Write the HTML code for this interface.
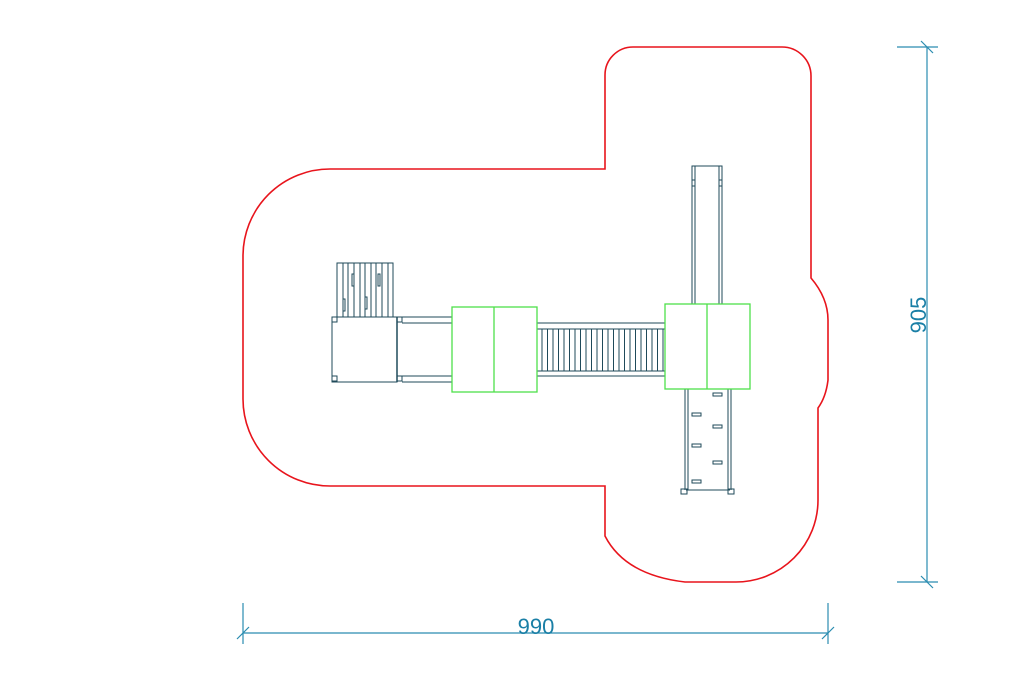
<!DOCTYPE html>
<html><head><meta charset="utf-8"><style>html,body{margin:0;background:#fff}svg{display:block}</style></head>
<body>
<svg width="1024" height="683" viewBox="0 0 1024 683" xmlns="http://www.w3.org/2000/svg">
<path d="M605,75 A28,28 0 0 1 633,47 L782,47 A29,29 0 0 1 811,76 L811,278 Q828,298 828,320 L828,380 Q826,397 818,408 L818,500 A82,82 0 0 1 736,582 L685,582 Q625,575 605,536 L605,486 L330,486 A87,87 0 0 1 243,399 L243,256 A87,87 0 0 1 330,169 L605,169 Z" fill="none" stroke="#e8141c" stroke-width="1.6"/>
<g stroke="#2a8cb0" stroke-width="1.2" fill="none">
<line x1="243" y1="633" x2="828" y2="633"/>
<line x1="243" y1="603" x2="243" y2="644"/><line x1="828" y1="603" x2="828" y2="644"/>
<line x1="237" y1="639" x2="249" y2="627"/><line x1="822" y1="639" x2="834" y2="627"/>
<line x1="927" y1="47" x2="927" y2="582"/>
<line x1="897" y1="47" x2="938" y2="47"/><line x1="897" y1="582" x2="938" y2="582"/>
<line x1="921" y1="41" x2="933" y2="53"/><line x1="921" y1="576" x2="933" y2="588"/>
</g>
<text x="536" y="634" font-family="Liberation Sans, sans-serif" font-size="22" fill="#1a7fa6" text-anchor="middle">990</text>
<text transform="translate(926,315) rotate(-90)" font-family="Liberation Sans, sans-serif" font-size="22" fill="#1a7fa6" text-anchor="middle">905</text>
<g stroke="#1f4a5a" stroke-width="1" fill="none">
<rect x="332" y="317" width="65" height="65"/>
<line x1="397" y1="317" x2="397" y2="382" stroke-width="1.5"/>
<rect x="332" y="317" width="5" height="5"/><rect x="332" y="376" width="5" height="5"/>
<rect x="397" y="317" width="5" height="5"/><rect x="397" y="376" width="5" height="5"/>
<rect x="337" y="263" width="56" height="54"/>
<line x1="343" y1="263" x2="343" y2="317"/><line x1="348" y1="263" x2="348" y2="317"/><line x1="354" y1="263" x2="354" y2="317"/><line x1="360" y1="263" x2="360" y2="317"/><line x1="365" y1="263" x2="365" y2="317"/><line x1="371" y1="263" x2="371" y2="317"/><line x1="376" y1="263" x2="376" y2="317"/><line x1="382" y1="263" x2="382" y2="317"/><line x1="388" y1="263" x2="388" y2="317"/>
<rect x="352" y="274" width="2" height="12"/><rect x="378" y="274" width="2" height="12"/>
<rect x="343" y="299" width="2" height="12"/><rect x="365" y="297" width="2" height="12"/>
<line x1="402" y1="317" x2="453" y2="317"/><line x1="402" y1="323" x2="453" y2="323"/>
<line x1="402" y1="376" x2="453" y2="376"/><line x1="402" y1="382" x2="453" y2="382"/>
<line x1="537" y1="323" x2="665" y2="323"/><line x1="537" y1="329" x2="665" y2="329"/>
<line x1="537" y1="371" x2="665" y2="371"/><line x1="537" y1="376" x2="665" y2="376"/>
<path d="M542,329V371M547.5,329V371M553,329V371M558.5,329V371M564,329V371M569.5,329V371M575,329V371M580.5,329V371M586,329V371M591.5,329V371M597,329V371M602.5,329V371M608,329V371M613.5,329V371M619,329V371M624.5,329V371M630,329V371M635.5,329V371M641,329V371M646.5,329V371M652,329V371M657.5,329V371M663,329V371"/>
<rect x="692" y="166" width="30" height="138"/>
<line x1="695" y1="166" x2="695" y2="304"/><line x1="719" y1="166" x2="719" y2="304"/>
<line x1="692" y1="180" x2="695" y2="180"/><line x1="692" y1="186" x2="695" y2="186"/>
<line x1="719" y1="180" x2="722" y2="180"/><line x1="719" y1="186" x2="722" y2="186"/>
<line x1="685" y1="389" x2="685" y2="490"/><line x1="688" y1="389" x2="688" y2="490"/>
<line x1="728" y1="389" x2="728" y2="490"/><line x1="731" y1="389" x2="731" y2="490"/>
<line x1="686" y1="490" x2="730" y2="490"/>
<rect x="681" y="489" width="6" height="5"/><rect x="728" y="489" width="6" height="5"/>
<rect x="713" y="393" width="9" height="3"/><rect x="692" y="413" width="9" height="3"/><rect x="713" y="425" width="9" height="3"/><rect x="692" y="444" width="9" height="3"/><rect x="713" y="461" width="9" height="3"/><rect x="692" y="480" width="9" height="3"/>
</g>
<g stroke="#4ee04a" stroke-width="1.3" fill="#fff">
<rect x="452" y="307" width="85" height="85"/><line x1="494" y1="307" x2="494" y2="392"/>
<rect x="665" y="304" width="85" height="85"/><line x1="707" y1="304" x2="707" y2="389"/>
</g>
</svg>
</body></html>
